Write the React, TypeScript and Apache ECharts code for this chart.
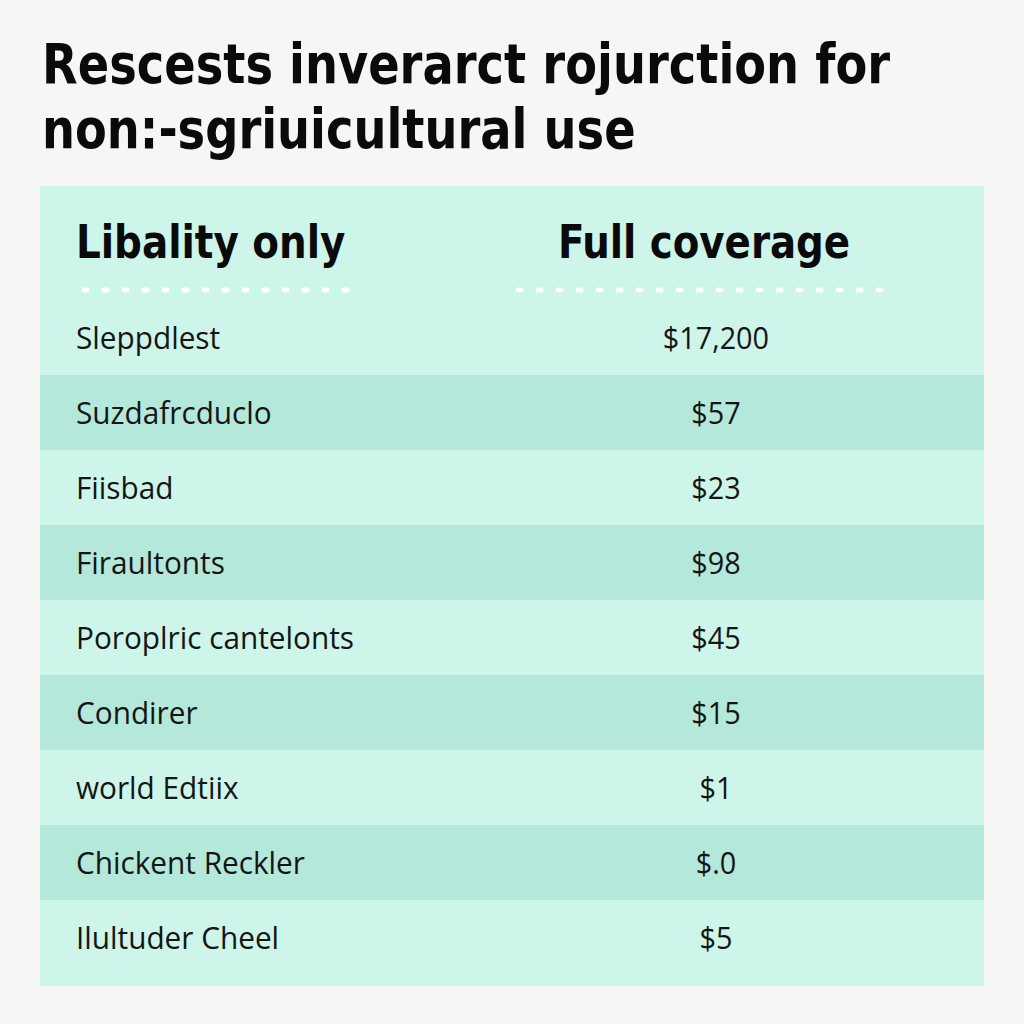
import React, { useEffect, useRef } from "react";
import * as echarts from "echarts";

const titleLines = ["Rescests inverarct rojurction for", "non:-sgriuicultural use"];
const columnHeaders = ["Libality only", "Full coverage"];
const rowLabels = [
  "Sleppdlest",
  "Suzdafrcduclo",
  "Fiisbad",
  "Firaultonts",
  "Poroplric cantelonts",
  "Condirer",
  "world Edtiix",
  "Chickent Reckler",
  "Ilultuder Cheel",
];
const fullCoverage = ["$17,200", "$57", "$23", "$98", "$45", "$15", "$1", "$.0", "$5"];

const LIGHT = "#cdf5ea";
const DARK = "#b4e8da";
const BG = "#f6f7f5";
const TEXT_FONT = "'Open Sans', 'Noto Sans', sans-serif";
const BOLD_FONT = "'DejaVu Sans Condensed', 'DejaVu Sans', sans-serif";

export default function App() {
  const ref = useRef<HTMLDivElement>(null);
  useEffect(() => {
    if (!ref.current) return;
    const chart = echarts.init(ref.current, undefined, { renderer: "svg" });
    const rowIdx = rowLabels.map((_, i) => i);
    const dots = (x1: number, x2: number, y: number) => ({
      type: "line",
      shape: { x1, y1: y, x2, y2: y },
      style: { stroke: "#ffffff", lineWidth: 5, lineDash: [3, 17], lineCap: "round", opacity: 0.95 },
      z: 5,
    });
    const titleStyle = (t: string) => ({
      text: t,
      fontFamily: BOLD_FONT,
      fontWeight: "bold",
      fontSize: 56,
      fill: "#0a0a0a",
      align: "left",
      verticalAlign: "middle",
    });
    chart.setOption({
      animation: false,
      backgroundColor: BG,
      grid: { left: 40, right: 40, top: 300, bottom: 49, containLabel: false },
      xAxis: { type: "value", min: 0, max: 1, show: false },
      yAxis: { type: "category", data: rowLabels, inverse: true, show: false },
      graphic: [
        { type: "text", x: 42, y: 64, scaleX: 0.92, style: titleStyle(titleLines[0]) },
        { type: "text", x: 42, y: 129, scaleX: 0.92, style: titleStyle(titleLines[1]) },
        {
          type: "rect",
          shape: { x: 40, y: 186, width: 944, height: 115 },
          style: { fill: LIGHT },
          z: 1,
        },
        {
          type: "rect",
          shape: { x: 40, y: 974, width: 944, height: 12 },
          style: { fill: LIGHT },
          z: 1,
        },
        {
          type: "text",
          x: 76,
          y: 243,
          scaleX: 0.94,
          style: { text: columnHeaders[0], fontFamily: BOLD_FONT, fontWeight: "bold", fontSize: 46, fill: "#0a0a0a", align: "left", verticalAlign: "middle" },
          z: 5,
        },
        {
          type: "text",
          x: 704,
          y: 243,
          scaleX: 0.936,
          style: { text: columnHeaders[1], fontFamily: BOLD_FONT, fontWeight: "bold", fontSize: 46, fill: "#0a0a0a", align: "center", verticalAlign: "middle" },
          z: 5,
        },
        dots(84, 362, 290),
        dots(518, 890, 290),
      ],
      series: [
        {
          type: "custom",
          data: rowIdx,
          encode: { y: 0 },
          renderItem: (params: any, api: any) => {
            const idx = params.dataIndex;
            const c = api.coord([0, idx]);
            const band = api.size([0, 1])[1];
            const cs = params.coordSys;
            return {
              type: "group",
              children: [
                {
                  type: "rect",
                  shape: { x: cs.x, y: c[1] - band / 2, width: cs.width, height: band },
                  style: { fill: idx % 2 === 1 ? DARK : LIGHT },
                },
                {
                  type: "text",
                  x: cs.x + 36,
                  y: c[1],
                  scaleX: 0.96,
                  style: { text: rowLabels[idx], fontFamily: TEXT_FONT, fontSize: 31, fill: "#151515", align: "left", verticalAlign: "middle" },
                },
                {
                  type: "text",
                  x: cs.x + cs.width * 0.716,
                  y: c[1],
                  scaleX: 0.93,
                  style: { text: fullCoverage[idx], fontFamily: TEXT_FONT, fontSize: 31, fill: "#151515", align: "center", verticalAlign: "middle" },
                },
              ],
            };
          },
        },
      ],
    });
    return () => chart.dispose();
  }, []);
  return <div ref={ref} style={{ position: "absolute", left: 0, top: 0, width: 1024, height: 1024 }} />;
}
